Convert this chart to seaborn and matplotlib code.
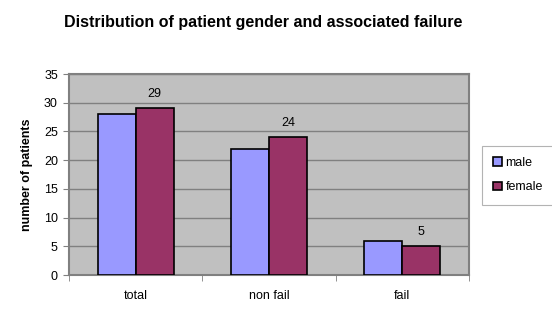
import matplotlib
matplotlib.use("Agg")
import matplotlib.pyplot as plt
import seaborn as sns
import pandas as pd
from matplotlib.ticker import FixedLocator

categories = ["total", "non fail", "fail"]
male = [28, 22, 6]
female = [29, 24, 5]
series = ["male", "female"]
colors = ["#9999FF", "#993366"]

df = pd.DataFrame({
    "category": categories * 2,
    "gender": ["male"] * 3 + ["female"] * 3,
    "count": male + female,
})

sns.set_style("white")
plt.rcParams["font.family"] = ["Liberation Sans", "DejaVu Sans"]
plt.rcParams["text.color"] = "black"
plt.rcParams["xtick.color"] = "black"
plt.rcParams["ytick.color"] = "black"
plt.rcParams["axes.labelcolor"] = "black"

fig = plt.figure(figsize=(5.52, 3.26), dpi=100)
ax = fig.add_axes([0.125, 0.156, 0.7246, 0.617])
ax.set_facecolor("#C0C0C0")

sns.barplot(data=df, x="category", y="count", hue="gender", order=categories,
            hue_order=series, palette=colors, width=0.57, ax=ax,
            edgecolor="black", linewidth=1.2, saturation=1, zorder=3)

ax.set_ylim(0, 35)
ax.set_yticks(range(0, 36, 5))
ax.set_xlim(-0.5, 2.5)
ax.yaxis.grid(True, color="#808080", linewidth=1, zorder=0)
ax.set_axisbelow(True)

for s in ["top", "right", "left", "bottom"]:
    ax.spines[s].set_visible(True)
    ax.spines[s].set_color("#808080")
    ax.spines[s].set_linewidth(1.5)

ax.tick_params(axis="y", which="major", direction="out", length=4, color="#808080",
               labelsize=9, left=True, pad=4)
ax.tick_params(axis="x", which="major", length=0, labelsize=9, pad=11)
ax.xaxis.set_minor_locator(FixedLocator([-0.5, 0.5, 1.5, 2.5]))
ax.tick_params(axis="x", which="minor", direction="out", length=4, color="#808080",
               bottom=True)

ax.set_xlabel("")
ax.set_ylabel("number of patients", fontsize=9, fontweight="bold", labelpad=8)

# value labels on female bars
female_container = ax.containers[1]
ax.bar_label(female_container, labels=[str(v) for v in female], padding=6, fontsize=9)

ax.set_title("Distribution of patient gender and associated failure",
             fontsize=11.5, fontweight="bold", pad=34, x=0.485)

leg = ax.legend(loc="center left", bbox_to_anchor=(1.032, 0.497), frameon=True,
                borderaxespad=0, fontsize=9, handlelength=0.7, handleheight=0.7,
                handletextpad=0.3, borderpad=0.9, labelspacing=1.0, fancybox=False,
                edgecolor="#A0A0A0")
leg.get_frame().set_linewidth(0.8)

fig.savefig("out.png", dpi=100, facecolor="white")
